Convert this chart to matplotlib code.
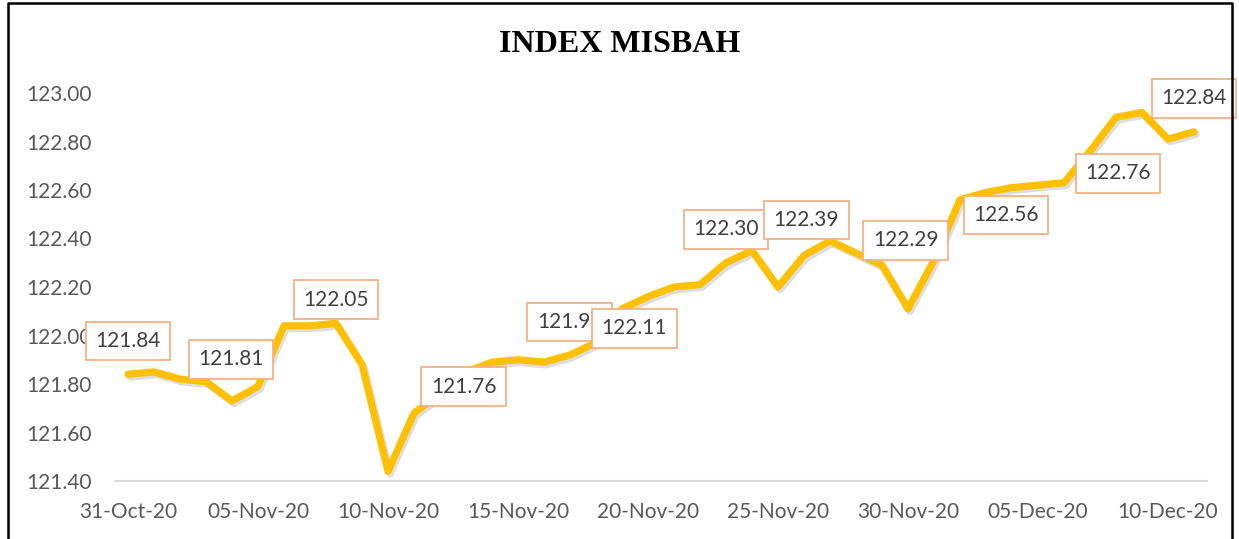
import numpy as np
import pandas as pd
import matplotlib
matplotlib.use('Agg')
from matplotlib import pyplot as plt
import matplotlib.dates as mdates
import matplotlib.patheffects as pe
from matplotlib.lines import Line2D

# daily index values, 31-Oct-20 .. 11-Dec-20
dates = pd.date_range('2020-10-31', '2020-12-11', freq='D')
index_values = [
    121.84, 121.85, 121.82, 121.81, 121.73, 121.79, 122.04, 122.04, 122.05, 121.88,
    121.44, 121.68, 121.76, 121.85, 121.89, 121.90, 121.89, 121.92, 121.97, 122.11,
    122.16, 122.20, 122.21, 122.30, 122.35, 122.20, 122.33, 122.39, 122.34, 122.29,
    122.11, 122.31, 122.56, 122.59, 122.61, 122.62, 122.63, 122.76, 122.90, 122.92,
    122.81, 122.84,
]
y_ticks = [121.4, 121.6, 121.8, 122.0, 122.2, 122.4, 122.6, 122.8, 123.0]

# which points carry a data label, and where the box sits (offset in points)
label_idx = [0, 3, 8, 12, 18, 19, 23, 27, 29, 32, 37, 41]
label_off = [(0, 24), (18, 16), (0, 17), (17, 5), (-19, 15), (9, -14),
             (0, 24), (-17, 15), (17, 18), (33, -11), (20, -16), (0, 24)]

plt.rcParams['font.family'] = ['Lato', 'DejaVu Sans']

fig = plt.figure(figsize=(12.39, 5.39), dpi=100)
ax = fig.add_axes([115 / 1239, 1 - 481 / 539, (1207 - 115) / 1239, (481 - 93) / 539])

ax.plot(dates, index_values, color='#FFC000', lw=5.2,
        solid_joinstyle='round', solid_capstyle='round',
        path_effects=[pe.SimpleLineShadow(offset=(1.5, -2), shadow_color='#7f7f7f', alpha=0.25),
                      pe.Normal()])

for i, (dx, dy) in zip(label_idx, label_off):
    ax.annotate('%.2f' % index_values[i], (dates[i], index_values[i]),
                xytext=(dx, dy), textcoords='offset points',
                ha='center', va='center', fontsize=15, color='#404040',
                annotation_clip=False, zorder=5 + i,
                bbox=dict(boxstyle='square,pad=0.45', fc='white', ec='#F4B183', lw=1.3))

ax.set_xlim(dates[0] - pd.Timedelta(hours=12), dates[-1] + pd.Timedelta(hours=12))
ax.set_ylim(121.4, 123.0)
ax.set_yticks(y_ticks)
ax.yaxis.set_major_formatter(plt.FormatStrFormatter('%.2f'))
ax.set_xticks(dates[::5])
ax.xaxis.set_major_formatter(mdates.DateFormatter('%d-%b-%y'))
ax.tick_params(axis='both', length=0, labelsize=15, colors='#595959')
ax.tick_params(axis='y', pad=17)
ax.tick_params(axis='x', pad=15)

for s in ['top', 'right', 'left']:
    ax.spines[s].set_visible(False)
ax.spines['bottom'].set_color('#D9D9D9')
ax.spines['bottom'].set_linewidth(1.5)

fig.text(0.5, 1 - 45 / 539, 'INDEX MISBAH', ha='center', va='center',
         fontsize=23, fontweight='bold', family='Liberation Serif', color='black')

# outer frame (bottom edge is cut off in the original)
fx = [8 / 1239, 8 / 1239, 1232 / 1239, 1232 / 1239]
fy = [0, 1 - 3 / 539, 1 - 3 / 539, 0]
fig.add_artist(Line2D(fx, fy, color='black', lw=1.8, transform=fig.transFigure))

fig.savefig('out.png', dpi=100)
